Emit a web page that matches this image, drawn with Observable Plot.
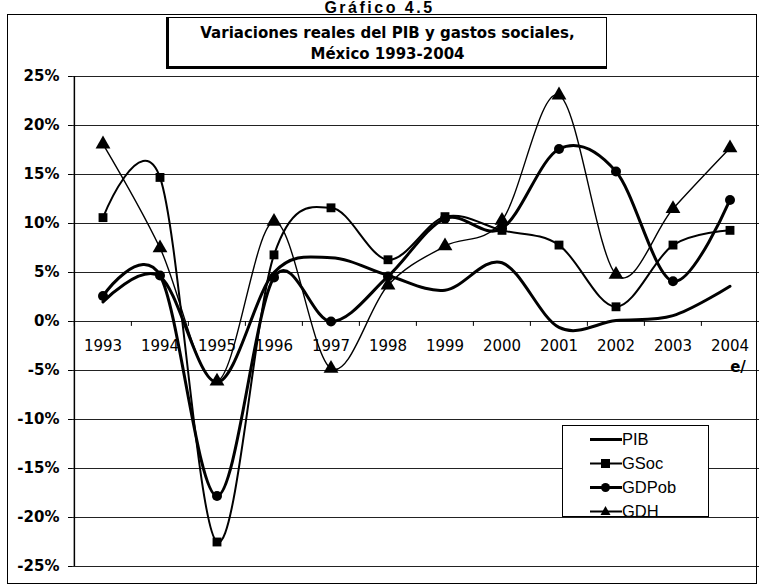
<!DOCTYPE html>
<html>
<head>
<meta charset="utf-8">
<script src="https://cdn.jsdelivr.net/npm/d3@7"></script>
<script src="https://cdn.jsdelivr.net/npm/@observablehq/plot@0.6"></script>
<style>
  html, body { margin: 0; padding: 0; background: #fff; }
  body { width: 759px; height: 586px; overflow: hidden; font-family: "Liberation Sans", Arial, sans-serif; }
  #wrap { position: relative; width: 759px; height: 586px; }
  #chart { position: absolute; left: 0; top: 0; }
  #frame { position: absolute; left: 7px; top: 14px; width: 750px; height: 570px; border: 1.5px solid #000; box-sizing: border-box; pointer-events: none; }
  #suptitle { position: absolute; left: 0; width: 759px; top: 0px; text-align: center; font-weight: bold; font-size: 16px; line-height: 16px; letter-spacing: 2.5px; }
  #titlebox { position: absolute; left: 166px; top: 17px; width: 441px; height: 52px; box-sizing: border-box; background: #fff;
    border: 1px solid #000; border-left: 3px solid #000; border-bottom: 3px solid #000; text-align: center;
    font-family: "DejaVu Sans", sans-serif; font-weight: bold; font-size: 15px; line-height: 21px; padding-top: 5px; }
  #legend { position: absolute; left: 562px; top: 425px; width: 147px; height: 92px; box-sizing: border-box; background: #fff; border: 1px solid #000; padding-top: 1px; }
  .li { display: flex; align-items: center; height: 24px; padding-left: 27px; font-size: 16.5px; }
  .li svg { margin-right: 0px; }
</style>
</head>
<body>
<div id="wrap">
  <div id="chart"></div>
  <div id="frame"></div>
  <div id="suptitle">Gráfico 4.5</div>
  <div id="titlebox">Variaciones reales del PIB y gastos sociales,<br>México 1993-2004</div>
  <div id="legend"></div>
</div>
<script>
const years = ["1993","1994","1995","1996","1997","1998","1999","2000","2001","2002","2003","2004"];
const pib   = [2.0, 4.6, -6.2, 5.0, 6.5, 4.7, 3.2, 6.0, -0.6, 0.1, 0.6, 3.6];
const gsoc  = [10.6, 14.7, -22.5, 6.8, 11.6, 6.3, 10.7, 9.3, 7.8, 1.5, 7.8, 9.3];
const gdpob = [2.6, 4.7, -17.8, 4.5, 0.0, 4.6, 10.5, 9.5, 17.6, 15.3, 4.1, 12.4];
const gdh   = [18.1, 7.5, -6.1, 10.2, -4.8, 3.7, 7.7, 10.3, 23.1, 4.8, 11.5, 17.7];
const seriesNames = ["PIB", "GSoc", "GDPob", "GDH"];
const yTicks = [-25, -20, -15, -10, -5, 0, 5, 10, 15, 20, 25];
const note = ["e/"];

const seriesValues = {PIB: pib, GSoc: gsoc, GDPob: gdpob, GDH: gdh};
const styles = {
  PIB:   {w: 3,   symbol: null},
  GSoc:  {w: 2,   symbol: "square"},
  GDPob: {w: 3,   symbol: "circle"},
  GDH:   {w: 1.4, symbol: "triangle"}
};
const data = seriesNames.flatMap(s => years.map((yr, i) => ({s, year: yr, v: seriesValues[s][i]})));

const W = 759, H = 586, ML = 72, MR = 0;
const bw = (W - ML - MR) / years.length;

const marks = [
  Plot.ruleY(yTicks, {stroke: "#222", strokeWidth: 1}),
  Plot.ruleX([years[0]], {x: d => d, dx: -bw / 2, y1: -25, y2: 25, stroke: "#000", strokeWidth: 1.5}),
  Plot.ruleX(years, {x: d => d, dx: -bw / 2, y1: 0, y2: -0.5, stroke: "#000"}),
  Plot.text(years, {x: d => d, y: 0, dy: 25, text: d => d, fontSize: 15, fontFamily: "DejaVu Sans", fill: "#000"}),
  Plot.text(note, {x: () => years[years.length - 1], y: 0, dy: 46, dx: 8, text: d => d, fontSize: 15, fontFamily: "DejaVu Sans", fontWeight: "bold"})
];
for (const s of seriesNames) {
  const d = data.filter(r => r.s === s);
  marks.push(Plot.line(d, {x: "year", y: "v", stroke: "#000", strokeWidth: styles[s].w, curve: "cardinal", tension: 0}));
  if (styles[s].symbol) {
    marks.push(Plot.dot(d, {x: "year", y: "v", symbol: styles[s].symbol, fill: "#000", stroke: "none", r: s === "GDH" ? 5.5 : 5}));
  }
}

const chart = Plot.plot({
  width: W, height: H,
  marginLeft: ML, marginRight: MR, marginTop: 76, marginBottom: 20,
  style: {fontFamily: "'Liberation Sans', Arial, sans-serif", background: "transparent", color: "#000"},
  x: {type: "band", domain: years, padding: 0, axis: null},
  y: {domain: [-25, 25], axis: null},
  marks: [
    Plot.axisY({ticks: yTicks, tickFormat: d => d + "%", tickSize: 4, tickPadding: 9, fontSize: 15, fontFamily: "DejaVu Sans", fontWeight: "bold", label: null}),
    ...marks
  ]
});
document.getElementById("chart").appendChild(chart);

// legend
const leg = document.getElementById("legend");
for (const s of seriesNames) {
  const row = document.createElement("div");
  row.className = "li";
  const sym = styles[s].symbol;
  let m = "";
  if (sym === "square") m = '<rect x="11" y="5" width="9" height="9" fill="#000"/>';
  if (sym === "circle") m = '<circle cx="15.5" cy="9.5" r="4.5" fill="#000"/>';
  if (sym === "triangle") m = '<path d="M15.5 4 L20.5 13 L10.5 13 Z" fill="#000"/>';
  row.innerHTML = `<svg width="32" height="19"><line x1="0" x2="32" y1="9.5" y2="9.5" stroke="#000" stroke-width="${Math.max(2, styles[s].w)}"/>${m}</svg><span>${s}</span>`;
  leg.appendChild(row);
}
</script>
</body>
</html>
